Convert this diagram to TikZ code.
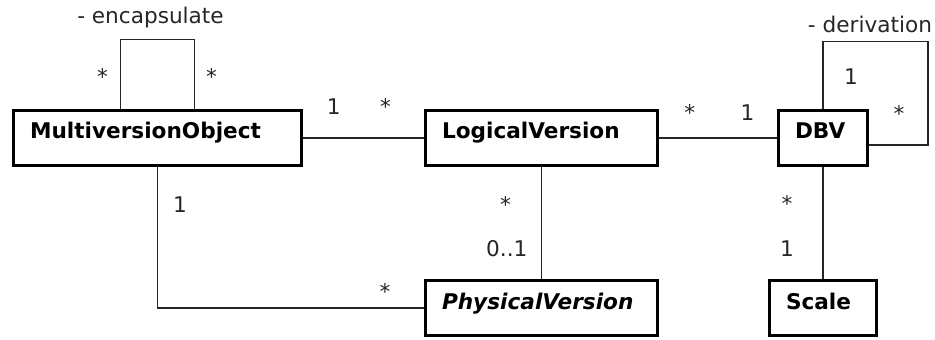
\documentclass[tikz,border=0pt]{standalone}
\usepackage{fontspec}
\setmainfont{DejaVu Sans}
\tikzset{
    umlclass/.style={draw, line width=1.7pt, font=\fontsize{12.3}{14}\selectfont\bfseries,
        text height=0.47cm, text depth=0.43cm, inner xsep=0.33cm, inner ysep=0.1cm, align=left},
    assoc/.style={line width=0.8pt, draw=black!85},
    % multiplicities and role names next to an association
    mult/.style={font=\fontsize{12.3}{14}\selectfont, text=black!85},
}

\begin{document}
\begin{tikzpicture}
    \useasboundingbox (0,0) rectangle (18.7,6.78);

    % classes
    \node[umlclass, text width=5.10cm] (mvo) at (3.15,4.02) {MultiversionObject};
    \node[umlclass, text width=3.98cm] (lv) at (10.83,4.02) {LogicalVersion};
    \node[umlclass, text width=1.12cm] (dbv) at (16.46,4.02) {DBV};
    \node[umlclass, text width=3.98cm] (pv) at (10.83,0.62) {\itshape PhysicalVersion};
    \node[umlclass, text width=1.48cm] (scale) at (16.46,0.62) {Scale};

    % associations
    \draw[assoc] (mvo.east) -- (lv.west)
        node[mult, pos=0.254, above=0.33cm] (mvo-lv-1) {1}
        node[mult, pos=0.681, above=0.33cm] (mvo-lv-2) {*};
    \draw[assoc] (lv.east) -- (dbv.west)
        node[mult, pos=0.26, above=0.21cm] (lv-dbv-1) {*}
        node[mult, pos=0.75, above=0.21cm] (lv-dbv-2) {1};
    \draw[assoc] (mvo.south) |- (pv.west)
        node[mult, pos=0.132, right=0.18cm] (mvo-pv-1) {1}
        node[mult, pos=0.927, above=0.03cm] (mvo-pv-2) {*};
    \draw[assoc] (lv.south) -- (pv.north)
        node[mult, pos=0.335, left=0.48cm] (lv-pv-1) {*}
        node[mult, pos=0.726, left=0.15cm] (lv-pv-2) {0..1};
    \draw[assoc] (dbv.south) -- (scale.north)
        node[mult, pos=0.326, left=0.48cm] (dbv-sc-1) {*}
        node[mult, pos=0.726, left=0.45cm] (dbv-sc-2) {1};

    % self associations
    \draw[assoc] (mvo.north west) ++(2.17,0) -- ++(0,1.39)
        node[mult, pos=0.468, left=0.12cm] (enc-1) {*}
        -- ++(1.48,0) node[mult, midway, above=0.09cm, xshift=-0.14cm] (enc) {- encapsulate}
        -- ++(0,-1.39) node[mult, pos=0.532, right=0.1cm] (enc-2) {*};
    \draw[assoc] (dbv.north) -- ++(0,1.35)
        node[mult, pos=0.48, right=0.29cm] (der-1) {1}
        -- ++(2.10,0) node[mult, midway, above=0.05cm, xshift=-0.11cm] (der) {- derivation}
        |- ([yshift=-4pt]dbv.east) node[mult, pos=0.348, left=0.34cm] (der-2) {*};
\end{tikzpicture}
\end{document}
